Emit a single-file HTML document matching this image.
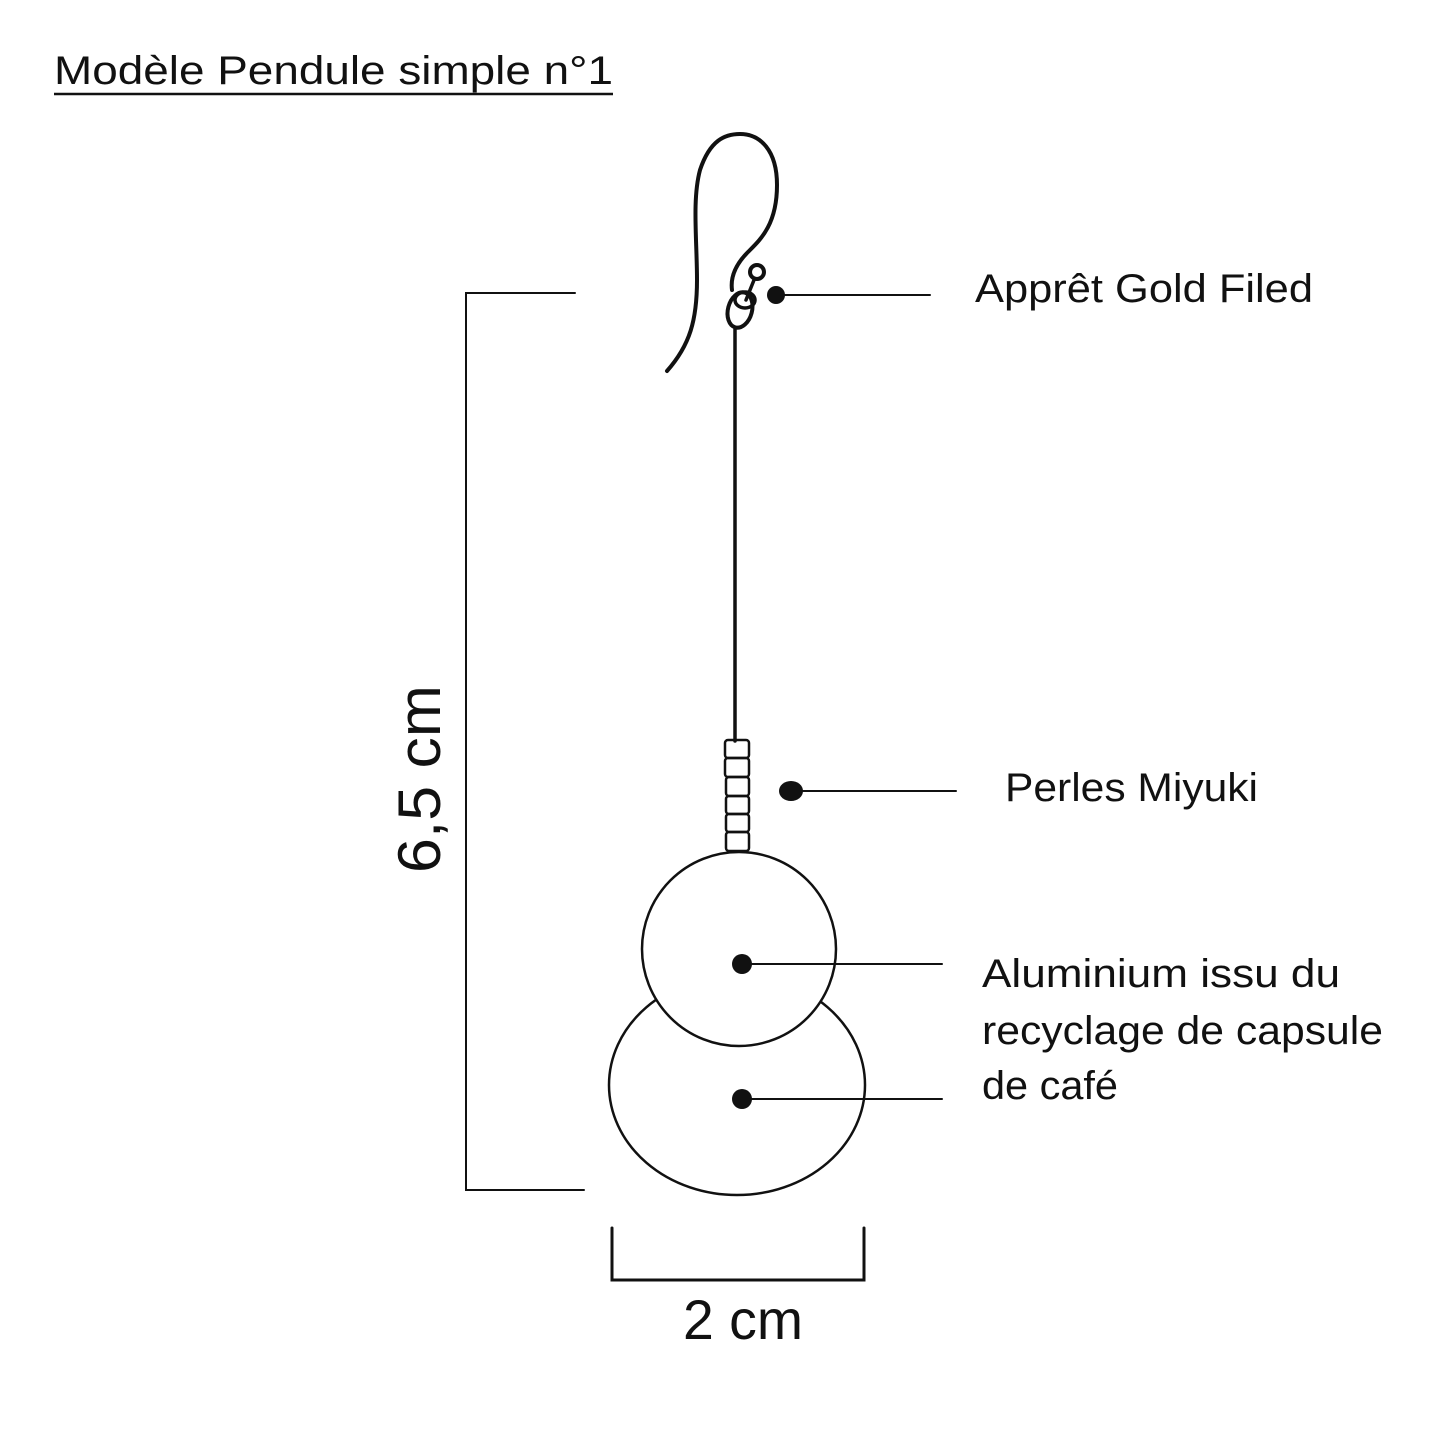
<!DOCTYPE html>
<html><head><style>
body{margin:0;background:#fff;}
svg{display:block;}
text{font-family:"Liberation Sans",sans-serif;fill:#111;}
</style></head><body>
<svg width="1445" height="1445" viewBox="0 0 1445 1445" xmlns="http://www.w3.org/2000/svg">
<text x="54" y="84" font-size="40" textLength="559" lengthAdjust="spacingAndGlyphs">Modèle Pendule simple n°1</text>
<line x1="54" y1="94" x2="613" y2="94" stroke="#111" stroke-width="2.5"/>
<g fill="none" stroke="#111" stroke-linecap="round">
<path d="M667 371 C690 345 697 320 697 280 C697 240 692 200 700 170 C710 140 725 134 740 134 C760 134 777 150 777 185 C777 225 760 240 748 252 C738 262 730 275 732 290" stroke-width="4"/>
<circle cx="757" cy="272" r="7" stroke-width="4"/>
<path d="M754 280 L746 300" stroke-width="3.5"/>
<ellipse cx="745" cy="300" rx="10" ry="8" stroke-width="3.5"/>
<ellipse cx="740" cy="310" rx="12" ry="18" stroke-width="4" transform="rotate(15 740 310)"/>
<line x1="735" y1="328" x2="735" y2="741" stroke-width="3.5"/>
<g stroke-width="2.5">
<rect x="725" y="740" width="24" height="18" rx="3"/>
<rect x="725" y="758" width="24" height="19" rx="3"/>
<rect x="726" y="777" width="23" height="19" rx="3"/>
<rect x="726" y="796" width="23" height="18" rx="3"/>
<rect x="726" y="814" width="23" height="18" rx="3"/>
<rect x="726" y="832" width="23" height="19" rx="3"/>
</g>
<ellipse cx="737" cy="1085" rx="128" ry="110" stroke-width="2.5"/>
<circle cx="739" cy="949" r="97" stroke-width="2.5" fill="#fff"/>
<g stroke-width="2">
<line x1="776" y1="295" x2="930" y2="295"/>
<line x1="791" y1="791" x2="956" y2="791"/>
<line x1="742" y1="964" x2="942" y2="964"/>
<line x1="742" y1="1099" x2="942" y2="1099"/>
<polyline points="575,293 466,293 466,1190 584,1190"/>
<polyline points="612,1228 612,1280 864,1280 864,1228" stroke-width="3"/>
</g>
</g>
<circle cx="776" cy="295" r="9" fill="#111"/>
<ellipse cx="791" cy="791" rx="12" ry="10" fill="#111"/>
<circle cx="742" cy="964" r="10" fill="#111"/>
<circle cx="742" cy="1099" r="10" fill="#111"/>
<text x="975" y="302" font-size="40" textLength="338" lengthAdjust="spacingAndGlyphs">Apprêt Gold Filed</text>
<text x="1005" y="801" font-size="40" textLength="253" lengthAdjust="spacingAndGlyphs">Perles Miyuki</text>
<text x="982" y="987" font-size="40" textLength="358" lengthAdjust="spacingAndGlyphs">Aluminium issu du</text>
<text x="982" y="1044" font-size="40" textLength="401" lengthAdjust="spacingAndGlyphs">recyclage de capsule</text>
<text x="982" y="1099" font-size="40" textLength="136" lengthAdjust="spacingAndGlyphs">de café</text>
<text transform="translate(440,779) rotate(-90)" text-anchor="middle" font-size="60" textLength="188" lengthAdjust="spacingAndGlyphs">6,5 cm</text>
<text x="743" y="1339" text-anchor="middle" font-size="56" textLength="120" lengthAdjust="spacingAndGlyphs">2 cm</text>
</svg>
</body></html>
